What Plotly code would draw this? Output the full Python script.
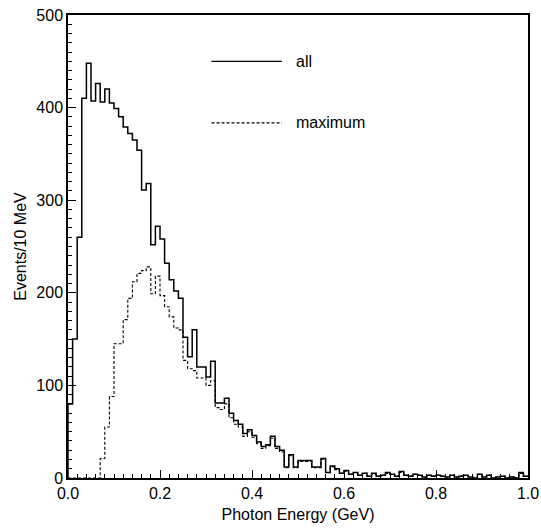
import numpy as np
import plotly.graph_objects as go

# Photon energy spectrum, 10 MeV bins from 0 to 1 GeV
bin_width = 0.01
all_counts = [
    80, 150, 260, 410, 448, 407, 426, 406, 420, 405,
    399, 390, 379, 372, 365, 354, 311, 318, 252, 272,
    258, 232, 214, 202, 194, 152, 131, 160, 120, 120,
    109, 126, 81, 81, 86, 70, 62, 58, 48, 52,
    46, 39, 34, 36, 45, 34, 30, 12, 25, 12,
    19, 19, 19, 12, 12, 21, 6, 13, 10, 5,
    8, 4, 6, 3, 5, 2, 5, 2, 3, 6,
    4, 2, 7, 3, 2, 4, 3, 1, 3, 2,
    3, 2, 1, 3, 1, 2, 3, 1, 0, 4,
    1, 3, 0, 1, 2, 0, 1, 0, 6, 2,
]
max_counts = [
    0, 0, 0, 0, 0, 0, 0, 21, 55, 88,
    145, 145, 171, 194, 212, 221, 224, 228, 199, 218,
    197, 185, 174, 162, 160, 127, 118, 116, 108, 108,
    100, 105, 76, 74, 80, 65, 58, 55, 45, 50,
    44, 37, 32, 35, 43, 32, 28, 11, 24, 11,
    18, 18, 18, 11, 11, 20, 6, 12, 9, 5,
    7, 4, 6, 3, 5, 2, 4, 2, 3, 5,
    4, 2, 6, 3, 2, 4, 3, 1, 3, 2,
    3, 2, 1, 3, 1, 2, 3, 1, 0, 4,
    1, 3, 0, 1, 2, 0, 1, 0, 5, 2,
]

x_ticks = [0.0, 0.2, 0.4, 0.6, 0.8, 1.0]
y_ticks = [0, 100, 200, 300, 400, 500]


def step_xy(counts):
    """Edges and heights for a step outline starting from the baseline."""
    edges = np.arange(len(counts) + 1) * bin_width
    xs = [0.0] + list(edges)
    ys = [0] + list(counts) + [counts[-1]]
    return xs, ys


FONT = "Liberation Sans, Arial, Helvetica, sans-serif"

fig = go.Figure()
xa, ya = step_xy(all_counts)
fig.add_trace(go.Scatter(x=xa, y=ya, mode="lines", line_shape="hv",
                         line=dict(color="black", width=1.5), name="all",
                         showlegend=False))
xm, ym = step_xy(max_counts)
fig.add_trace(go.Scatter(x=xm, y=ym, mode="lines", line_shape="hv",
                         line=dict(color="black", width=1.1, dash="3px,2px"),
                         name="maximum", showlegend=False))

# Legend keys drawn inside the frame
legend_rows = [("all", "solid", 0.90), ("maximum", "3px,2px", 0.767)]
for label, dash, yp in legend_rows:
    fig.add_shape(type="line", xref="paper", yref="paper",
                  x0=0.312, x1=0.465, y0=yp, y1=yp,
                  line=dict(color="black", width=1.3, dash=dash))
    fig.add_annotation(x=0.492, y=yp, xref="paper", yref="paper",
                       text=label, showarrow=False, xanchor="left",
                       yanchor="middle", font=dict(size=16, color="black", family=FONT))

axis_common = dict(showline=True, linecolor="black", linewidth=1.5, mirror=True,
                   ticks="inside", tickcolor="black", ticklen=8, tickwidth=1,
                   showgrid=False, zeroline=False, automargin=False,
                   tickfont=dict(size=16, color="black", family=FONT))

fig.update_xaxes(range=[0, 1.0], tickvals=x_ticks,
                 ticktext=[f"{v:.1f}" for v in x_ticks],
                 minor=dict(ticks="inside", ticklen=4, dtick=0.02,
                            tickcolor="black", showgrid=False),
                 title=dict(text="Photon Energy (GeV)", standoff=8,
                            font=dict(size=16, color="black", family=FONT)),
                 **axis_common)
fig.update_yaxes(range=[0, 500], tickvals=y_ticks,
                 ticktext=[str(v) for v in y_ticks],
                 minor=dict(ticks="inside", ticklen=4, dtick=10,
                            tickcolor="black", showgrid=False),
                 title=dict(text="Events/10 MeV", standoff=6,
                            font=dict(size=16, color="black", family=FONT)),
                 **axis_common)

fig.update_layout(width=541, height=528,
                  margin=dict(l=68, r=13, t=15, b=50),
                  paper_bgcolor="white", plot_bgcolor="white",
                  showlegend=False)

fig.write_html("out.html")
